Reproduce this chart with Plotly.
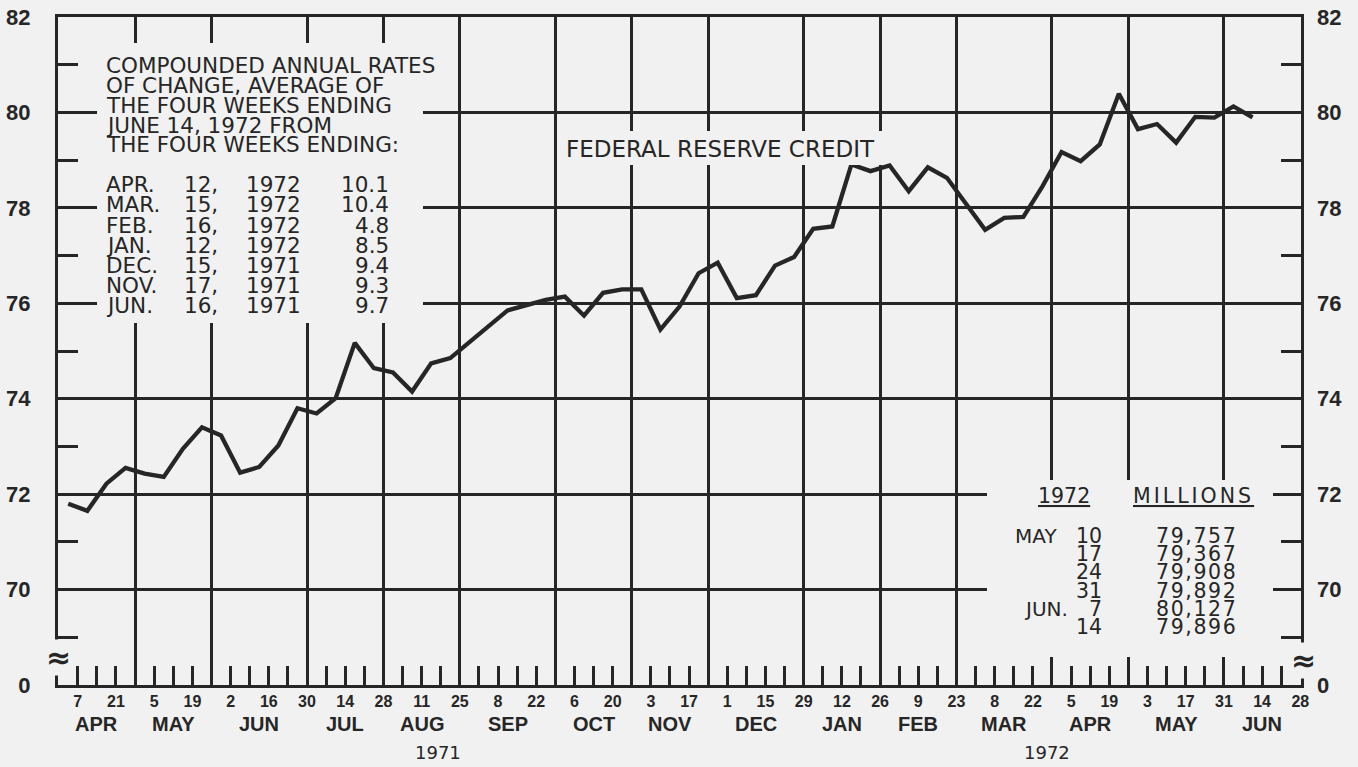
import pandas as pd
import plotly.graph_objects as go

# ---------------- data ----------------
week_ending = pd.date_range("1971-04-07", periods=63, freq="7D")  # weeks ending Wednesday
reserve_credit = [71.80, 71.65, 72.22, 72.55, 72.43, 72.36, 72.95, 73.40, 73.23, 72.45,
                  72.57, 73.02, 73.80, 73.69, 74.01, 75.17, 74.64, 74.55, 74.15, 74.74,
                  74.85, 75.19, 75.52, 75.85, 75.96, 76.07, 76.14, 75.74, 76.22, 76.29,
                  76.29, 75.45, 75.93, 76.63, 76.85, 76.11, 76.17, 76.79, 76.97, 77.56,
                  77.61, 78.91, 78.77, 78.89, 78.35, 78.85, 78.63, 78.08, 77.54, 77.79,
                  77.81, 78.45, 79.17, 78.98, 79.33, 80.39, 79.65, 79.757, 79.367, 79.908,
                  79.892, 80.127, 79.896]

tick_dates = pd.date_range("1971-04-07", "1972-06-28", freq="7D")
y_tick_vals = [68, 70, 72, 74, 76, 78, 80, 82]
y_tick_text = ["0", "70", "72", "74", "76", "78", "80", "82"]
y_minor_vals = [69, 71, 73, 75, 77, 79, 81]

box_header = ["COMPOUNDED ANNUAL RATES", "OF CHANGE, AVERAGE OF",
              "THE FOUR WEEKS ENDING", "JUNE 14, 1972 FROM", "THE FOUR WEEKS ENDING:"]
rate_months = ["APR.", "MAR.", "FEB.", "JAN.", "DEC.", "NOV.", "JUN."]
rate_days = ["12,", "15,", "16,", "12,", "15,", "17,", "16,"]
rate_years = ["1972", "1972", "1972", "1972", "1971", "1971", "1971"]
rate_values = ["10.1", "10.4", "4.8", "8.5", "9.4", "9.3", "9.7"]

table_months = ["MAY", "", "", "", "JUN.", ""]
table_days = ["10", "17", "24", "31", "7", "14"]
table_values = ["79,757", "79,367", "79,908", "79,892", "80,127", "79,896"]

year_labels = ["1971", "1972"]
year_label_dates = ["1971-08-17", "1972-03-27"]

series_title = "FEDERAL RESERVE CREDIT"

# ---------------- styling ----------------
BG = "#f1f1f1"
INK = "#262626"
W, H = 1358, 767
L, R, T, B = 58, 57, 17, 82
PW, PH = W - L - R, H - T - B
x_start = pd.Timestamp("1971-03-30 18:00")
x_end = pd.Timestamp("1972-06-28 06:00")
Y_RANGE = [68, 82]

LETTER = "DejaVu Sans, Verdana, sans-serif"
AXF = "Liberation Sans, Arial, sans-serif"


def px(x):
    return (x - L) / PW


def py(y):
    return (H - B - y) / PH


# plotted at mid-week of each week ending Wednesday
plot_x = week_ending - pd.Timedelta(days=3.5)

fig = go.Figure()
fig.add_trace(go.Scatter(x=plot_x, y=reserve_credit, mode="lines",
                         line=dict(color=INK, width=4.3), showlegend=False,
                         hoverinfo="skip"))
fig.add_trace(go.Scatter(x=[None], y=[None], yaxis="y2", showlegend=False,
                         hoverinfo="skip"))

# month-end boundaries (vertical grid) and month labels
bounds = [d for i, d in enumerate(tick_dates[:-1]) if tick_dates[i + 1].month != d.month]
bounds.append(tick_dates[-1])
tick_text = [str(d.day) if i % 2 == 0 else "" for i, d in enumerate(tick_dates)]

annotations = []
edges = [pd.Timestamp("1971-03-31")] + bounds
for a, b in zip(edges[:-1], edges[1:]):
    annotations.append(dict(x=a + (b - a) / 2, y=py(724), xref="x", yref="paper",
                            yanchor="middle",
                            text=b.strftime("%b").upper(), showarrow=False,
                            font=dict(family=AXF, size=20, color=INK, weight="bold")))
for lab, d in zip(year_labels, year_label_dates):
    annotations.append(dict(x=pd.Timestamp(d), y=py(752), xref="x", yref="paper",
                            yanchor="middle", text=lab, showarrow=False,
                            font=dict(family=LETTER, size=18, color=INK)))


def txt(x, y, s, size, anchor="left", family=LETTER):
    annotations.append(dict(x=px(x), y=py(y), xref="paper", yref="paper", text=s,
                            showarrow=False, xanchor=anchor, yanchor="middle",
                            font=dict(family=family, size=size, color=INK)))


def spaced(s, sp):
    return '<span style="letter-spacing:%.1fpx">%s</span>' % (sp, s)


for k, s in enumerate(box_header):
    txt(104, 65 + 20 * k, s, 21.5)
for k in range(len(rate_months)):
    y = 184.7 + 20.2 * k
    txt(104, y, rate_months[k], 21.5)
    txt(182, y, rate_days[k], 21.5)
    txt(244, y, rate_years[k], 21.5)
    txt(391, y, rate_values[k], 21.5, anchor="right")

txt(564, 149, series_title, 23)

txt(1064, 496, "<u>1972</u>", 20.5, anchor="center")
txt(1131, 496, "<u>" + spaced("MILLIONS", 3.0) + "</u>", 20.5)
for k in range(len(table_days)):
    y = 536 + 18.2 * k
    if table_months[k]:
        txt(1013 if table_months[k] == "MAY" else 1022, y, table_months[k], 20)
    txt(1104, y, table_days[k], 20.5, anchor="right")
    txt(1239, y, spaced(table_values[k], 1.6), 20.5, anchor="right")

# axis break marks
for xx, yy in ((L, 657), (W - R + 2, 660)):
    annotations.append(dict(x=px(xx), y=py(yy), xref="paper", yref="paper", text="≈",
                            showarrow=False, bgcolor=BG, borderpad=0,
                            xanchor="center", yanchor="middle",
                            font=dict(family=LETTER, size=30, color=INK, weight="bold")))

# blank areas behind the text blocks (grid interrupted, as in the original)
shapes = []
for (x0, y0, x1, y1) in [(97, 43, 423, 323), (987, 480, 1273, 657), (558, 131, 884, 165)]:
    shapes.append(dict(type="rect", xref="paper", yref="paper", x0=px(x0), x1=px(x1),
                       y0=py(y1), y1=py(y0), fillcolor=BG, line=dict(width=0),
                       layer="above"))

fig.update_layout(
    template="none",
    width=W, height=H, margin=dict(l=L, r=R, t=T, b=B, pad=0, autoexpand=False),
    paper_bgcolor=BG, plot_bgcolor=BG,
    annotations=annotations, shapes=shapes, showlegend=False,
    xaxis=dict(range=[x_start, x_end], type="date", automargin=False,
               tickmode="array", tickvals=tick_dates, ticktext=tick_text,
               ticks="inside", ticklen=19, tickwidth=2.6, tickcolor=INK,
               tickfont=dict(family=AXF, size=16, color=INK, weight="bold"),
               ticklabelstandoff=0,
               showgrid=False, zeroline=False,
               showline=True, linecolor=INK, linewidth=3, mirror=True,
               minor=dict(tickmode="array", tickvals=bounds, showgrid=True,
                          gridcolor=INK, gridwidth=2.6, ticks="")),
    yaxis=dict(range=Y_RANGE, tickmode="array", tickvals=y_tick_vals,
               ticktext=y_tick_text, ticks="", showgrid=True, gridcolor=INK,
               gridwidth=2.6, zeroline=False, showline=True, linecolor=INK,
               linewidth=3, mirror=True, ticklabelstandoff=20, automargin=False,
               tickfont=dict(family=AXF, size=22, color=INK, weight="bold"),
               minor=dict(tickmode="array", tickvals=y_minor_vals, ticks="inside",
                          ticklen=20, tickwidth=2.6, tickcolor=INK, showgrid=False)),
    yaxis2=dict(range=Y_RANGE, overlaying="y", side="right", tickmode="array",
                tickvals=y_tick_vals, ticktext=y_tick_text, ticks="", showgrid=False,
                zeroline=False, showline=False, ticklabelstandoff=15, automargin=False,
                tickfont=dict(family=AXF, size=22, color=INK, weight="bold"),
                minor=dict(tickmode="array", tickvals=y_minor_vals, ticks="inside",
                           ticklen=20, tickwidth=2.6, tickcolor=INK, showgrid=False)),
)

fig.write_html("out.html", config={"displayModeBar": False},
               post_script="document.body.style.margin='0';"
                           "document.body.style.background='" + BG + "';")
